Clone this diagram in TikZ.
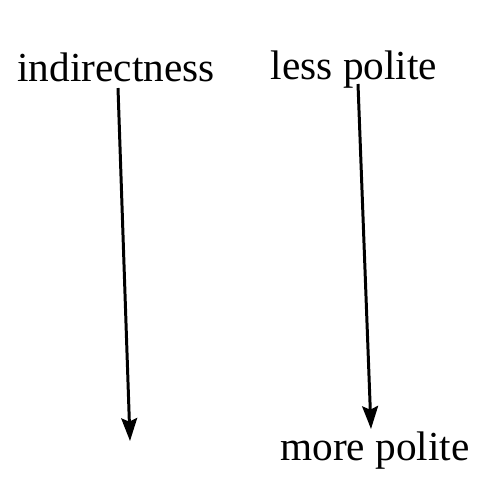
\documentclass[tikz,border=0pt]{standalone}
\usepackage{fontspec}
\setmainfont{Liberation Serif}
\usetikzlibrary{arrows.meta}

\begin{document}
\begin{tikzpicture}[x=0.02cm, y=-0.02cm, >={Stealth[length=13pt, width=9pt, inset=2pt]}]
                \tikzset{label text/.style={font=\fontsize{23.5}{28}\selectfont, anchor=base, inner sep=0pt}}
                \useasboundingbox (0,0) rectangle (503,495);
                
                % 标签
                \node[label text] (indirect) at (116,81) {indirectness};
                \node[label text] (less) at (354,79) {less polite};
                \node[label text] (more) at (375,460) {more polite};
                
                % 箭头端点
                \coordinate (Ltop) at (118,88);
                \coordinate (Lbot) at (130,441);
                \coordinate (Rtop) at (358,84);
                \coordinate (Rbot) at (371,429);
                
                % 绘制箭头
                \draw[->, line width=1.7pt] (Ltop) -- (Lbot);
                \draw[->, line width=1.7pt] (Rtop) -- (Rbot);
            \end{tikzpicture}
\end{document}
